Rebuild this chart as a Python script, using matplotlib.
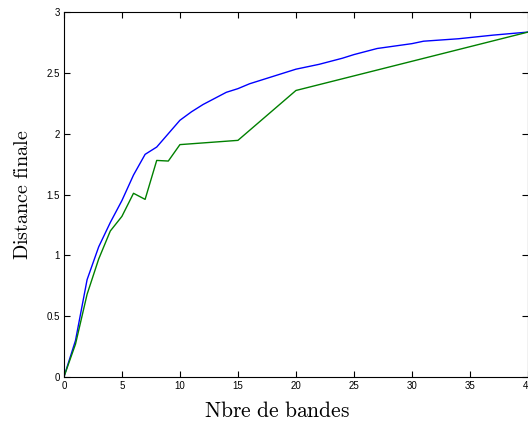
import matplotlib
matplotlib.use("Agg")
import matplotlib.pyplot as plt

plt.rcParams["mathtext.fontset"] = "cm"
plt.rcParams["font.family"] = ["Liberation Sans", "DejaVu Sans"]

# blue curve
x_blue = [0, 1, 2, 3, 4, 5, 6, 7, 8, 9, 10, 11, 12, 13, 14, 15, 16, 18, 20,
          22, 24, 25, 27, 30, 31, 34, 37, 40]
y_blue = [0, 0.3, 0.8, 1.07, 1.27, 1.45, 1.66, 1.83, 1.89, 2.0, 2.11, 2.18,
          2.24, 2.29, 2.34, 2.37, 2.41, 2.47, 2.53, 2.57, 2.62, 2.65, 2.70,
          2.74, 2.76, 2.78, 2.81, 2.835]

# green curve
x_green = [0, 1, 2, 3, 4, 5, 6, 7, 8, 9, 10, 15, 20, 40]
y_green = [0, 0.27, 0.68, 0.97, 1.2, 1.32, 1.51, 1.46, 1.78, 1.775, 1.91,
           1.945, 2.355, 2.835]

fig = plt.figure(figsize=(5.28, 4.21), dpi=100)
ax = fig.add_axes([0.121, 0.1045, 0.879, 0.867])
ax.plot(x_blue, y_blue, color="#0000ff", lw=1)
ax.plot(x_green, y_green, color="#008000", lw=1)

ax.set_xlim(0, 40)
ax.set_ylim(0, 3)
ax.set_xticks(range(0, 41, 5))
ax.set_yticks([0, 0.5, 1, 1.5, 2, 2.5, 3])
ax.set_yticklabels(["0", "0.5", "1", "1.5", "2", "2.5", "3"])
ax.tick_params(direction="in", top=True, right=True, labelsize=7, length=4,
               width=0.8, pad=3)
for s in ax.spines.values():
    s.set_linewidth(0.8)

ax.set_xlabel(r"$\mathrm{Nbre\ de\ bandes}$", fontsize=15.5)
ax.xaxis.set_label_coords(0.46, -0.067)
ax.set_ylabel(r"$\mathrm{Distance\ finale}$", fontsize=14.5, labelpad=10)

fig.savefig("out.png", dpi=100)
